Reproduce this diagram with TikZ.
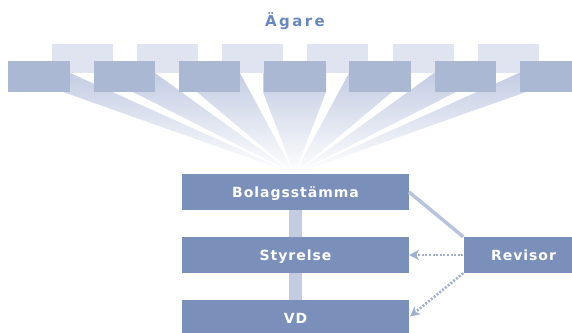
\documentclass[tikz,border=0pt]{standalone}
\usepackage{fontspec}
\setmainfont{DejaVu Sans}
\usetikzlibrary{arrows.meta,calc}
\definecolor{boxblue}{HTML}{7A8FBA}
\definecolor{frontbox}{HTML}{AAB8D4}
\definecolor{backbox}{HTML}{DFE4F0}
\definecolor{raycol}{HTML}{C4CDE3}
\definecolor{titleblue}{HTML}{6A88C0}
\definecolor{barcol}{HTML}{C3CCE1}
\definecolor{linecol}{HTML}{B8C4DD}
\definecolor{arrowcol}{HTML}{9FB0D3}
\begin{document}
\begin{tikzpicture}[x=1pt,y=-1pt,
  mainbox/.style={fill=boxblue, minimum width=226.6pt, minimum height=36pt,
    inner sep=0pt, text=white, text height=10pt, text depth=0pt,
    font=\fontsize{14}{16}\selectfont\bfseries\addfontfeature{LetterSpace=7}},
  frontrect/.style={fill=frontbox, minimum width=61.5pt, minimum height=31pt, inner sep=0pt},
  backrect/.style={fill=backbox, minimum width=61pt, minimum height=29pt, inner sep=0pt},
  bar/.style={draw=barcol, line width=12.5pt},
  revline/.style={draw=linecol, line width=3.5pt},
  dotarrow/.style={draw=arrowcol, line width=2.6pt, dash pattern=on 2pt off 1.6pt,
    -{Stealth[length=10pt,width=10pt,inset=3pt]}}
]
\useasboundingbox (0,0) rectangle (572,332);

% title
\node[anchor=base, text=titleblue, inner sep=0pt,
  font=\fontsize{15}{17}\selectfont\bfseries\addfontfeature{LetterSpace=16}] (title) at (295,26.7) {Ägare};

% main boxes
\node[mainbox] (bol) at (295.5,192) {Bolagsstämma};
\node[mainbox] (sty) at (295.5,255) {Styrelse};
\node[mainbox] (vd)  at (295.5,318) {VD};
\node[mainbox, minimum width=120pt] (rev) at (523.5,255) {Revisor};

% rays
\coordinate (apex) at (294.5,174);
\shade[top color=raycol, bottom color=white]
  (apex) -- (63,92) -- (63,73) -- (70,73) -- cycle
  (apex) -- (133,92) -- (133,73) -- (155,73) -- cycle
  (apex) -- (197,92) -- (197,73) -- (240,73) -- cycle
  (apex) -- (263,92) -- (263,73) -- (326,73) -- (326,92) -- cycle
  (apex) -- (392,92) -- (392,73) -- (349,73) -- cycle
  (apex) -- (456,92) -- (456,73) -- (434,73) -- cycle
  (apex) -- (526,92) -- (526,73) -- (519,73) -- cycle;

% owner boxes
\foreach \j in {0,...,5} {
  \node[backrect] (back\j) at ({82.2+85.2*\j},58.5) {};
}
\foreach \i in {0,...,6} {
  \node[frontrect] (front\i) at ({39.05+85.25*\i},76.5) {};
}

% connectors
\draw[bar] (bol.south) -- (sty.north);
\draw[bar] (sty.south) -- (vd.north);
\draw[revline] (bol.east) -- (rev.north west);
\draw[dotarrow] (rev.west) -- (sty.east);
\draw[dotarrow] (rev.south west) -- ($(vd.east)+(1,-1.5)$);
\end{tikzpicture}
\end{document}
